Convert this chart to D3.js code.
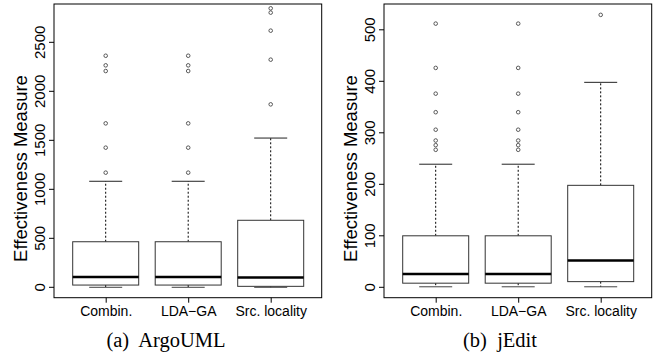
<!DOCTYPE html>
<html><head><meta charset="utf-8">
<script src="https://cdn.jsdelivr.net/npm/d3@7"></script>
<style>body{margin:0;background:#fff}svg{display:block}</style>
</head><body>
<svg id="c" width="657" height="358"></svg>
<script>
const categories = ["Combin.", "LDA\u2212GA", "Src. locality"];
// [lowerWhisker, Q1, median, Q3, upperWhisker]
const argoStats = [[0, 23, 105, 465, 1082], [0, 23, 105, 465, 1082], [0, 10, 100, 684, 1523]];
const argoOutliers = [[1170, 1425, 1673, 2207, 2265, 2363], [1170, 1425, 1673, 2207, 2265, 2363], [1867, 2323, 2619, 2803, 2847]];
const argoTicks = [0, 500, 1000, 1500, 2000, 2500];
const jeditStats = [[1, 8, 26, 100, 239], [1, 8, 26, 100, 239], [1, 11, 52, 198, 398]];
const jeditOutliers = [[267, 276, 285, 306, 340, 376, 426, 512], [267, 276, 285, 306, 340, 376, 426, 512], [529]];
const jeditTicks = [0, 100, 200, 300, 400, 500];
const captions = ["(a)  ArgoUML", "(b)  jEdit"];
const yLabel = "Effectiveness Measure";

const svg = d3.select("#c");
const SANS = "'Liberation Sans', Arial, Helvetica, sans-serif";
const SERIF = "'Liberation Serif', 'Times New Roman', Times, serif";

function panel(x0, x1, yDomain, stats, outliers, ticks, caption, capX) {
  const top = 4, bottom = 297.7;
  const g = svg.append("g");
  const y = d3.scaleLinear().domain(yDomain).range([bottom, top]);
  const x = d3.scalePoint().domain(categories).range([x0 + 51.7, x1 - 51]);
  const bw = 66;
  // y axis
  const ya = g.append("g").attr("transform", `translate(${x0},0)`)
    .call(d3.axisLeft(y).tickValues(ticks).tickSize(5).tickFormat(d3.format("d")));
  ya.select(".domain").remove();
  ya.selectAll(".tick").attr("transform", null);
  ya.selectAll(".tick line").attr("stroke", "#000").attr("x1", -5).attr("x2", 0)
    .attr("y1", d => y(d)).attr("y2", d => y(d));
  ya.selectAll(".tick text").attr("x", null).attr("dy", null)
    .attr("transform", d => `translate(-9.5,${y(d)}) rotate(-90)`)
    .attr("text-anchor", "middle")
    .style("font-family", SANS).style("font-size", "15px").attr("fill", "#000");
  // x axis
  const xa = g.append("g").attr("transform", `translate(0,${bottom})`)
    .call(d3.axisBottom(x).tickSize(5));
  xa.select(".domain").remove();
  xa.selectAll("line").attr("stroke", "#000");
  xa.selectAll("text").attr("y", 18.3).attr("dy", null)
    .style("font-family", SANS).style("font-size", "14px").attr("fill", "#000");
  // frame
  g.append("rect").attr("x", x0).attr("y", top).attr("width", x1 - x0).attr("height", bottom - top)
    .attr("fill", "none").attr("stroke", "#000").attr("stroke-width", 1);
  // y label
  g.append("text").attr("transform", `translate(${x0 - 27.5},168.5) rotate(-90)`)
    .attr("text-anchor", "middle").style("font-family", SANS).style("font-size", "18.5px")
    .text(yLabel);
  // boxes
  categories.forEach((c, i) => {
    const cx = x(c), s = stats[i];
    const bg = g.append("g");
    bg.append("line").attr("x1", cx).attr("x2", cx).attr("y1", y(s[3])).attr("y2", y(s[4]))
      .attr("stroke", "#000").attr("stroke-dasharray", "2,2");
    bg.append("line").attr("x1", cx).attr("x2", cx).attr("y1", y(s[1])).attr("y2", y(s[0]))
      .attr("stroke", "#000").attr("stroke-dasharray", "2,2");
    bg.append("line").attr("x1", cx - bw / 4).attr("x2", cx + bw / 4).attr("y1", y(s[4])).attr("y2", y(s[4])).attr("stroke", "#222");
    bg.append("line").attr("x1", cx - bw / 4).attr("x2", cx + bw / 4).attr("y1", y(s[0])).attr("y2", y(s[0])).attr("stroke", "#444");
    bg.append("rect").attr("x", cx - bw / 2).attr("width", bw).attr("y", y(s[3])).attr("height", y(s[1]) - y(s[3]))
      .attr("fill", "#fff").attr("stroke", "#333");
    bg.append("line").attr("x1", cx - bw / 2).attr("x2", cx + bw / 2).attr("y1", y(s[2])).attr("y2", y(s[2]))
      .attr("stroke", "#000").attr("stroke-width", 2.5);
    bg.selectAll("circle").data(outliers[i]).join("circle")
      .attr("cx", cx).attr("cy", d => y(d)).attr("r", 1.8).attr("fill", "none").attr("stroke", "#333").attr("stroke-width", 0.8);
  });
  g.append("text").attr("x", capX).attr("y", 347).attr("text-anchor", "middle")
    .attr("xml:space", "preserve").style("white-space", "pre")
    .style("font-family", SERIF).style("font-size", "20.5px").text(caption);
}

panel(54, 321.7, [-106, 2891], argoStats, argoOutliers, argoTicks, captions[0], 166);
panel(384, 651.7, [-20.2, 550.1], jeditStats, jeditOutliers, jeditTicks, captions[1], 500);
</script>
</body></html>
